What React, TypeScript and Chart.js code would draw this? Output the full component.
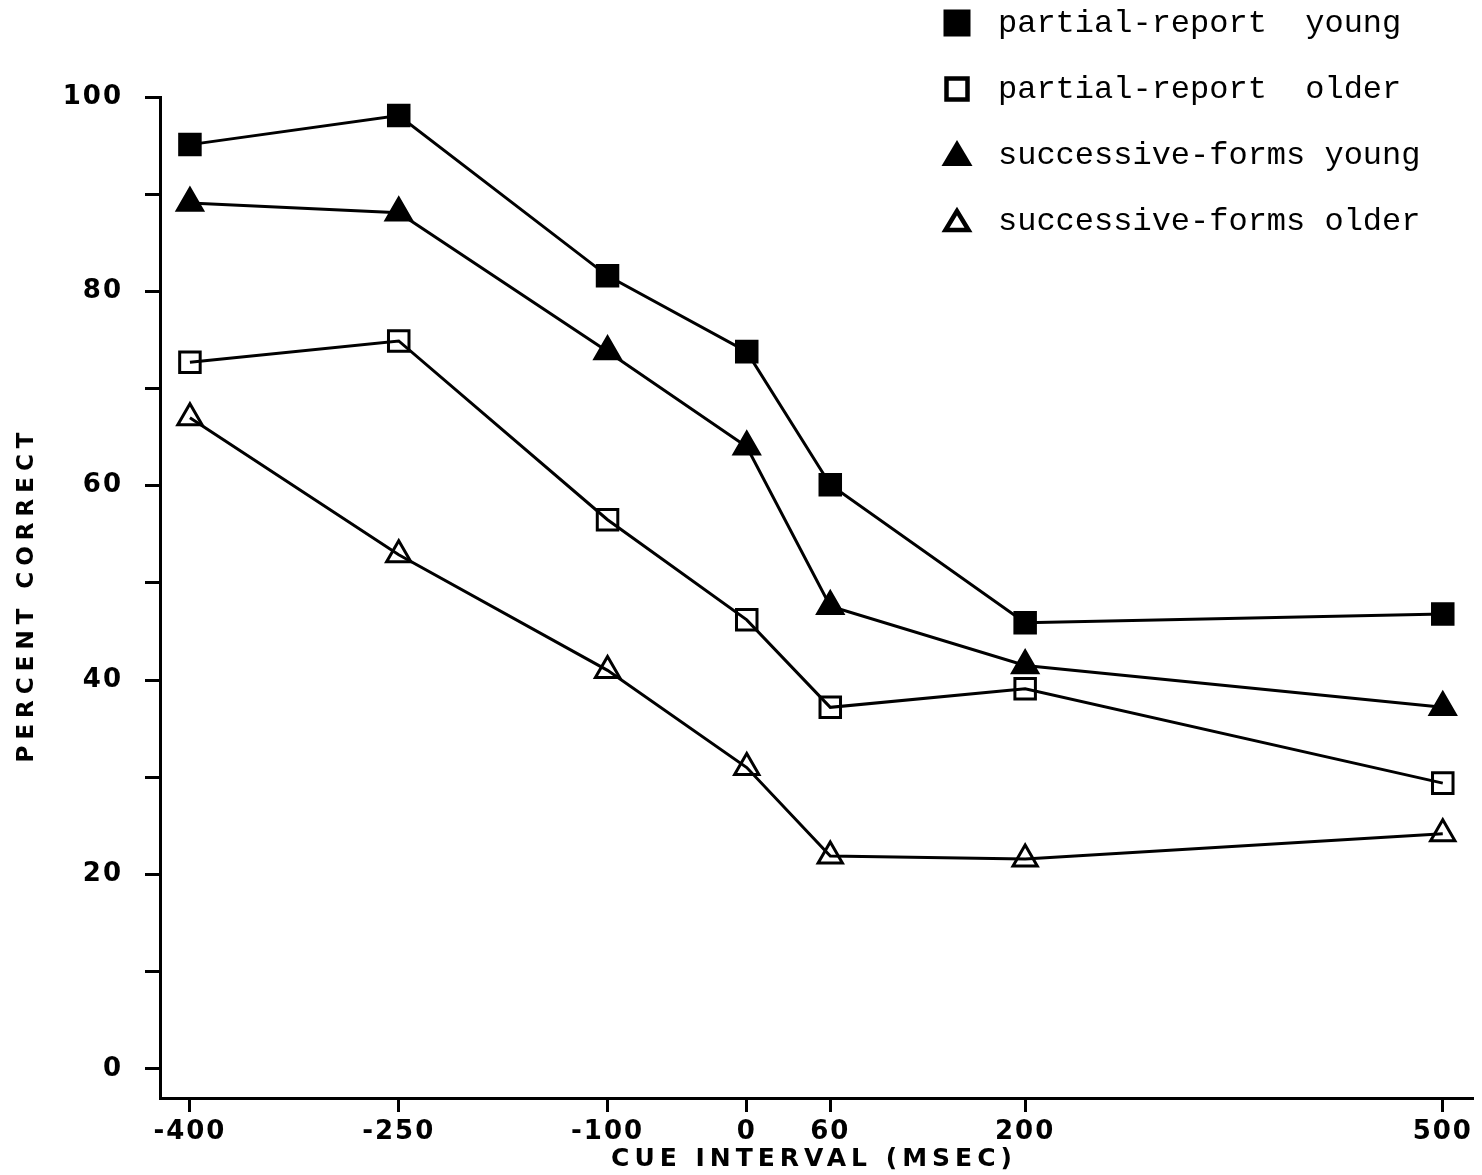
import React, { useEffect, useRef } from 'react';
import { Chart, registerables } from 'chart.js';

Chart.register(...registerables);

// ---- data ----
const cueIntervals = [-400, -250, -100, 0, 60, 200, 500];
const partialReportYoung = [95.1, 98.1, 81.6, 73.8, 60.1, 45.9, 46.8];
const partialReportOlder = [72.7, 74.9, 56.5, 46.2, 37.2, 39.1, 29.4];
const successiveFormsYoung = [89.1, 88.1, 73.8, 64.0, 47.6, 41.5, 37.2];
const successiveFormsOlder = [67.0, 52.9, 41.0, 31.0, 21.9, 21.6, 24.2];
const yTickValues = [0, 10, 20, 30, 40, 50, 60, 70, 80, 90, 100];
const yLabelledTicks = [0, 20, 40, 60, 80, 100];
const seriesLabels = [
  'partial-report  young',
  'partial-report  older',
  'successive-forms young',
  'successive-forms older',
];
const xTitle = 'CUE INTERVAL (MSEC)';
const yTitle = 'PERCENT CORRECT';

const TICK_FONT = { family: '"DejaVu Sans", sans-serif', size: 26, weight: 'bold' as const };

const setSpacing = (ctx: any, v: string) => {
  try { ctx.letterSpacing = v; } catch (e) {}
};

const decorPlugin = {
  id: 'decor',
  beforeDraw(chart: any) {
    setSpacing(chart.ctx, '2px');
  },
  beforeDatasetsDraw(chart: any) {
    setSpacing(chart.ctx, '0px');
  },
  afterDraw(chart: any) {
    const ctx = chart.ctx as CanvasRenderingContext2D;
    const ca = chart.chartArea;
    ctx.save();
    ctx.fillStyle = '#000';
    ctx.strokeStyle = '#000';
    // axis titles
    ctx.font = 'bold 25px "DejaVu Sans", sans-serif';
    setSpacing(ctx, '5px');
    ctx.textAlign = 'center';
    ctx.textBaseline = 'middle';
    ctx.fillText(xTitle, (ca.left + ca.right) / 2 - 2, 1159);
    ctx.font = 'bold 23px "DejaVu Sans", sans-serif';
    setSpacing(ctx, '6px');
    ctx.save();
    ctx.translate(27, (ca.top + ca.bottom) / 2 - 3);
    ctx.rotate(-Math.PI / 2);
    ctx.fillText(yTitle, 0, 0);
    ctx.restore();

    // legend
    setSpacing(ctx, '0px');
    ctx.font = '32px "Liberation Mono", monospace';
    ctx.textAlign = 'left';
    const datasets = chart.data.datasets;
    const mx = 957;
    datasets.forEach((ds: any, i: number) => {
      const cy = 23 + i * 66;
      const filled = ds.pointBackgroundColor !== 'transparent';
      ctx.lineJoin = 'miter';
      if (ds.pointStyle === 'rect') {
        if (filled) {
          ctx.fillRect(mx - 13.5, cy - 13.5, 27, 27);
        } else {
          ctx.lineWidth = 4.5;
          ctx.strokeRect(mx - 10.5, cy - 10.5, 21, 21);
        }
      } else {
        if (filled) {
          ctx.beginPath();
          ctx.moveTo(mx, cy - 15);
          ctx.lineTo(mx - 15.5, cy + 11);
          ctx.lineTo(mx + 15.5, cy + 11);
          ctx.closePath();
          ctx.fill();
        } else {
          ctx.lineWidth = 4.5;
          ctx.beginPath();
          ctx.moveTo(mx, cy - 10);
          ctx.lineTo(mx - 11.5, cy + 9);
          ctx.lineTo(mx + 11.5, cy + 9);
          ctx.closePath();
          ctx.stroke();
        }
      }
      ctx.fillText(ds.label, 998, cy + 1);
    });
    ctx.restore();
  },
};

export default function App() {
  const canvasRef = useRef<HTMLCanvasElement | null>(null);

  useEffect(() => {
    const canvas = canvasRef.current;
    if (!canvas) return;
    const mk = (label: string, values: number[], style: string, filled: boolean, radius: number) => ({
      label,
      data: cueIntervals.map((x, i) => ({ x, y: values[i] })),
      borderColor: '#000',
      borderWidth: 3,
      pointStyle: style,
      pointRadius: radius,
      pointBorderWidth: 3,
      pointBorderColor: '#000',
      pointBackgroundColor: filled ? '#000' : 'transparent',
      tension: 0,
      fill: false,
    });
    const chart = new Chart(canvas, {
      type: 'line',
      data: {
        datasets: [
          mk(seriesLabels[0], partialReportYoung, 'rect', true, 14.5),
          mk(seriesLabels[1], partialReportOlder, 'rect', false, 14.5),
          mk(seriesLabels[2], successiveFormsYoung, 'triangle', true, 14.5),
          mk(seriesLabels[3], successiveFormsOlder, 'triangle', false, 14),
        ],
      },
      options: {
        animation: false,
        responsive: false,
        events: [],
        devicePixelRatio: 1,
        layout: { autoPadding: false, padding: { top: 97, right: 10, left: 0, bottom: 0 } },
        plugins: {
          legend: { display: false },
          tooltip: { enabled: false },
          title: { display: false },
        },
        scales: {
          x: {
            type: 'linear',
            min: -421.5,
            max: 521,
            afterBuildTicks: (scale: any) => {
              scale.ticks = cueIntervals.map((v) => ({ value: v }));
            },
            afterFit: (scale: any) => {
              scale.height = 77;
              scale.paddingLeft = 0;
              scale.paddingRight = 0;
            },
            ticks: {
              autoSkip: false,
              maxRotation: 0,
              color: '#000',
              font: TICK_FONT,
              padding: 5,
              callback: (v: any) => String(v),
            },
            grid: {
              display: true,
              drawOnChartArea: false,
              drawTicks: true,
              tickLength: 14,
              color: '#000',
              lineWidth: 3,
            },
            border: { display: true, color: '#000', width: 3 },
          },
          y: {
            type: 'linear',
            min: -3,
            max: 100,
            afterBuildTicks: (scale: any) => {
              scale.ticks = yTickValues.map((v) => ({ value: v }));
            },
            afterFit: (scale: any) => {
              scale.width = 160;
              scale.paddingTop = 0;
              scale.paddingBottom = 0;
            },
            ticks: {
              autoSkip: false,
              color: '#000',
              font: TICK_FONT,
              padding: 22,
              callback: (v: any) => (yLabelledTicks.includes(Number(v)) ? String(v) : ''),
            },
            grid: {
              display: true,
              drawOnChartArea: false,
              drawTicks: true,
              tickLength: 15,
              color: '#000',
              lineWidth: 3,
            },
            border: { display: true, color: '#000', width: 3 },
          },
        },
      } as any,
      plugins: [decorPlugin],
    });
    return () => chart.destroy();
  }, []);

  return (
    <div style={{ position: 'fixed', left: 0, top: 0, width: 1482, height: 1175, background: '#fff' }}>
      <canvas ref={canvasRef} width={1482} height={1175} style={{ width: 1482, height: 1175, display: 'block' }} />
    </div>
  );
}
